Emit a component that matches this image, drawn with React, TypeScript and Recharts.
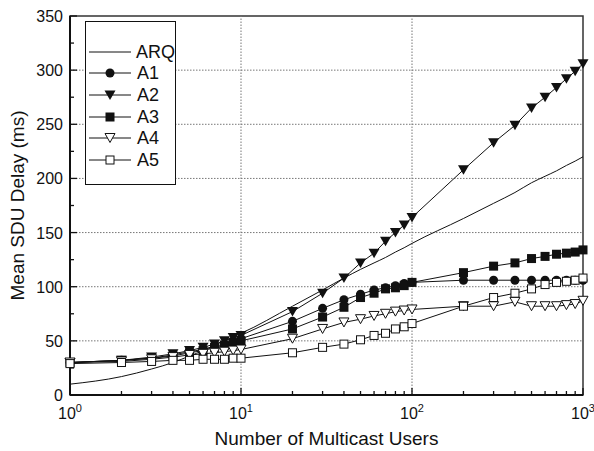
import { LineChart, Line, XAxis, YAxis, ReferenceLine, ReferenceArea, Legend } from 'recharts';

// number of multicast users (x, log scale)
const users = [1, 2, 3, 4, 5, 6, 7, 8, 9, 10, 20, 30, 40, 50, 60, 70, 80, 90, 100, 200, 300, 400, 500, 600, 700, 800, 900, 1000];

// mean SDU delay (ms) per scheme
const arq = [10, 17, 24, 30, 36, 41, 46, 50, 54, 57, 82, 97, 108, 116, 122, 127, 132, 136, 140, 163, 177, 187, 196, 202, 207, 212, 216, 220];
const a1 = [30, 32, 34, 37, 40, 42, 45, 47, 50, 52, 68, 80, 88, 93, 97, 99, 101, 103, 104, 106, 106, 106, 106, 106, 106, 106, 106, 106];
const a2 = [30, 32, 35, 38, 41, 44, 47, 50, 53, 55, 77, 94, 108, 122, 131, 142, 150, 157, 164, 208, 233, 249, 265, 275, 284, 292, 299, 306];
const a3 = [30, 32, 34, 36, 39, 41, 44, 46, 48, 50, 61, 72, 81, 90, 94, 98, 99, 101, 104, 113, 119, 122, 126, 128, 130, 131, 132, 134];
const a4 = [30, 31, 33, 35, 37, 38, 39, 40, 41, 42, 52, 61, 67, 70, 73, 75, 77, 78, 79, 82, 82, 86, 82, 82, 82, 83, 84, 87];
const a5 = [29, 30, 31, 32, 32, 33, 33, 33, 34, 34, 39, 44, 47, 51, 55, 57, 61, 63, 66, 82, 90, 94, 98, 102, 104, 105, 106, 108];

const xTicks = [1, 2, 3, 4, 5, 6, 7, 8, 9, 10, 20, 30, 40, 50, 60, 70, 80, 90, 100, 200, 300, 400, 500, 600, 700, 800, 900, 1000];
const yTicks = [0, 25, 50, 75, 100, 125, 150, 175, 200, 225, 250, 275, 300, 325, 350];
const xGrid = [10, 100];
const yGrid = [50, 100, 150, 200, 250, 300];

const data = users.map((u, i) => ({ users: u, arq: arq[i], a1: a1[i], a2: a2[i], a3: a3[i], a4: a4[i], a5: a5[i] }));

const series = [
  { key: 'arq', name: 'ARQ', shape: 'none', curve: 'monotone' },
  { key: 'a1', name: 'A1', shape: 'circle', curve: 'linear' },
  { key: 'a2', name: 'A2', shape: 'down', curve: 'linear' },
  { key: 'a3', name: 'A3', shape: 'square', curve: 'linear' },
  { key: 'a4', name: 'A4', shape: 'downOpen', curve: 'linear' },
  { key: 'a5', name: 'A5', shape: 'squareOpen', curve: 'linear' },
];

const FONT = 'Arial, "Liberation Sans", Helvetica, sans-serif';
const INK = '#111';

function Marker({ shape, cx, cy }: { shape: string; cx: number; cy: number }) {
  if (cx == null || cy == null) return null;
  switch (shape) {
    case 'circle':
      return <circle cx={cx} cy={cy} r={4.5} fill={INK} />;
    case 'down':
      return <path d={`M${cx - 5.5},${cy - 4.5}L${cx + 5.5},${cy - 4.5}L${cx},${cy + 5}Z`} fill={INK} />;
    case 'square':
      return <rect x={cx - 4.5} y={cy - 4.5} width={9} height={9} fill={INK} />;
    case 'downOpen':
      return <path d={`M${cx - 5},${cy - 4.5}L${cx + 5},${cy - 4.5}L${cx},${cy + 4.5}Z`} fill="#fff" stroke={INK} strokeWidth={1} />;
    case 'squareOpen':
      return <rect x={cx - 4} y={cy - 4} width={8} height={8} fill="#fff" stroke={INK} strokeWidth={1} />;
    default:
      return null;
  }
}

const isPow10 = (v: number) => Math.abs(Math.log10(v) - Math.round(Math.log10(v))) < 1e-9;

function XTick({ x, y, payload }: any) {
  const v = payload.value;
  const major = isPow10(v);
  return (
    <g>
      <line x1={x} x2={x} y1={y} y2={y - (major ? 7 : 4)} stroke={INK} strokeWidth={1.3} />
      {major && (
        <text x={x} y={y + 24} textAnchor="middle" fontSize={16} fontFamily={FONT} fill={INK}>
          10<tspan dy={-7} fontSize={11}>{Math.round(Math.log10(v))}</tspan>
        </text>
      )}
    </g>
  );
}

function YTick({ x, y, payload }: any) {
  const v = payload.value;
  const major = v % 50 === 0;
  return (
    <g>
      <line x1={x} x2={x + (major ? 7 : 4)} y1={y} y2={y} stroke={INK} strokeWidth={1.3} />
      {major && (
        <text x={x - 7} y={y + 6} textAnchor="end" fontSize={16} fontFamily={FONT} fill={INK}>
          {v}
        </text>
      )}
    </g>
  );
}

function LegendBox() {
  return (
    <div
      style={{
        border: `1px solid ${INK}`,
        width: 89,
        padding: '19px 0 13px 0',
        background: '#fff',
        fontFamily: FONT,
        fontSize: 18,
        color: INK,
      }}
    >
      {series.map((s) => (
        <div key={s.key} style={{ display: 'flex', alignItems: 'center', height: 21.6 }}>
          <svg width={46} height={14} style={{ marginLeft: 2 }}>
            <line x1={1} x2={43} y1={7} y2={7} stroke={INK} strokeWidth={1} />
            <Marker shape={s.shape} cx={22} cy={7} />
          </svg>
          <span style={{ marginLeft: 3, lineHeight: '18px' }}>{s.name}</span>
        </div>
      ))}
    </div>
  );
}

export default function App() {
  return (
    <div style={{ position: 'absolute', left: 0, top: 0, width: 594, height: 451, background: '#fff' }}>
      <LineChart width={594} height={451} data={data} margin={{ top: 16, right: 11, bottom: 0, left: 0 }}>
        {xGrid.map((g) => (
          <ReferenceLine key={'x' + g} x={g} stroke="#777" strokeDasharray="1.5 1.5" />
        ))}
        {yGrid.map((g) => (
          <ReferenceLine key={'y' + g} y={g} stroke="#777" strokeDasharray="1.5 1.5" />
        ))}
        <XAxis
          dataKey="users"
          type="number"
          scale="log"
          domain={[1, 1000]}
          ticks={xTicks}
          interval={0}
          height={56}
          tickSize={0}
          tickMargin={0}
          tickLine={false}
          tick={<XTick />}
          axisLine={{ stroke: INK, strokeWidth: 2 }}
          label={{ value: 'Number of Multicast Users', position: 'insideBottom', offset: 6, fontSize: 19, fontFamily: FONT, fill: INK }}
        />
        <YAxis
          type="number"
          domain={[0, 350]}
          ticks={yTicks}
          interval={0}
          width={70}
          tickSize={0}
          tickMargin={0}
          tickLine={false}
          tick={<YTick />}
          axisLine={{ stroke: INK, strokeWidth: 2 }}
          label={{
            value: 'Mean SDU Delay  (ms)',
            angle: -90,
            position: 'insideLeft',
            offset: 17,
            style: { textAnchor: 'middle', fontSize: 19, fontFamily: FONT, fill: INK },
          }}
        />
        <ReferenceArea x1={1} x2={1000} y1={0} y2={350} fill="none" stroke="#333" strokeWidth={1.5} />
        {series.map((s) => (
          <Line
            key={s.key}
            dataKey={s.key}
            name={s.name}
            type={s.curve as any}
            stroke={INK}
            strokeWidth={1}
            isAnimationActive={false}
            activeDot={false}
            dot={s.shape === 'none' ? false : (p: any) => <Marker key={s.key + p.index} shape={s.shape} cx={p.cx} cy={p.cy} />}
          />
        ))}
        <Legend
          layout="vertical"
          align="center"
          verticalAlign="middle"
          wrapperStyle={{ left: 85, top: 21, width: 91 }}
          content={() => <LegendBox />}
        />
      </LineChart>
    </div>
  );
}
